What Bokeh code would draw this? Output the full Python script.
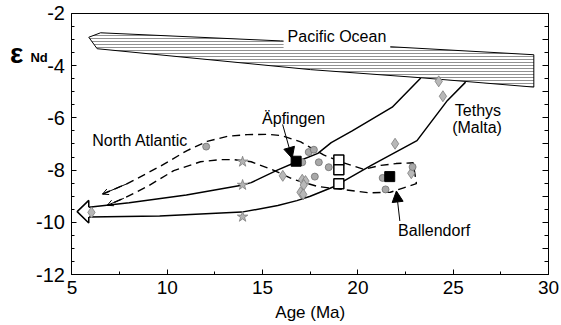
from bokeh.plotting import figure
from bokeh.models import (Range1d, LinearAxis, SingleIntervalTicker, Label, Arrow,
                          NormalHead, OpenHead)
from bokeh.embed import file_html
from bokeh.resources import INLINE

FONT = "Liberation Sans"

# ---- data -------------------------------------------------------------
pacific_x = [5.88, 6.5, 15.94, 21.62, 29.23, 29.23, 23.28, 17.51, 6.32]
pacific_y = [-2.91, -2.74, -3.05, -3.27, -3.58, -4.82, -4.46, -4.15, -3.35]

tethys_upper_x = [5.88, 8.0, 11.0, 13.9, 14.4, 15.8, 16.8, 17.9, 18.6, 19.7, 21.8, 23.3]
tethys_upper_y = [-9.42, -9.25, -8.95, -8.58, -8.48, -7.99, -7.68, -7.36, -6.95, -6.5, -5.59, -4.47]
tethys_lower_x = [5.88, 9.6, 13.9, 15.8, 16.8, 17.5, 18.7, 20.7, 23.1, 24.7, 25.65]
tethys_lower_y = [-9.8, -9.76, -9.61, -9.36, -9.17, -9.0, -8.65, -7.82, -6.87, -5.33, -4.63]

arrowhead_x = [5.88, 5.88, 5.27, 5.88, 5.88]
arrowhead_y = [-9.42, -9.16, -9.59, -10.03, -9.8]

natl_x = [6.6, 7.9, 9.64, 11.04, 12.09, 13.2, 14.2, 15.3, 16.0, 17.0, 18.2, 19.26, 20.3,
          21.2, 22.0, 22.9, 23.07, 22.4, 21.7, 20.6, 19.3, 17.9, 16.6, 15.5, 14.4, 13.5,
          12.8, 11.74, 10.34, 8.95, 7.72, 6.85]
natl_y = [-8.92, -8.52, -7.85, -7.25, -6.9, -6.7, -6.64, -6.63, -6.68, -6.92, -7.42, -7.72,
          -7.97, -7.82, -7.75, -7.72, -8.52, -8.68, -8.85, -8.87, -8.75, -8.63, -8.35,
          -7.98, -7.68, -7.6, -7.6, -7.68, -8.02, -8.63, -9.08, -9.35]

circle_x = [12.04, 17.08, 17.42, 17.69, 17.95, 18.47, 17.74, 21.3, 21.45, 22.87]
circle_y = [-7.1, -7.7, -7.31, -7.22, -7.7, -7.89, -8.25, -8.3, -8.74, -7.88]
diamond_x = [24.24, 24.46, 21.95, 16.06, 17.08, 17.25, 17.16, 16.99, 17.13, 6.02, 22.8]
diamond_y = [-4.6, -5.17, -6.99, -8.22, -8.37, -8.42, -8.57, -8.85, -8.93, -9.62, -8.12]
star_x = [13.95, 13.95, 13.95]
star_y = [-7.68, -8.57, -9.79]
open_sq_x = [19.0, 19.0, 19.0]
open_sq_y = [-7.61, -7.99, -8.52]
filled_sq_x = [16.76, 21.67]
filled_sq_y = [-7.66, -8.25]

x_min, x_max = 5, 30
y_min, y_max = -12, -2
x_ticks = [5, 10, 15, 20, 25, 30]
y_ticks = [-12, -10, -8, -6, -4, -2]

# ---- figure -----------------------------------------------------------
# The frame fills the canvas; the axes sit at fixed data locations (the box
# x 5..30, y -12..-2), which leaves room for texts outside that box.
p = figure(width=561, height=325, output_backend="svg", toolbar_location=None,
           x_range=Range1d(1.249, 30.682), y_range=Range1d(-13.954, -1.502),
           x_axis_type=None, y_axis_type=None, min_border=0)
p.outline_line_color = None
p.background_fill_color = "white"
p.border_fill_color = "white"


def style_axis(ax, size):
    ax.axis_line_color = "black"
    ax.axis_line_width = 1
    ax.major_tick_in = 5
    ax.major_tick_out = 0
    ax.minor_tick_in = 3
    ax.minor_tick_out = 0
    ax.major_tick_line_color = "black"
    ax.minor_tick_line_color = "black"
    ax.major_label_text_font = FONT
    ax.major_label_text_font_size = size
    ax.major_label_text_color = "black"


xaxis = LinearAxis(ticker=SingleIntervalTicker(interval=5, num_minor_ticks=2),
                   fixed_location=y_min, bounds=(x_min, x_max))
style_axis(xaxis, "19px")
xaxis.major_label_standoff = 6
xaxis.major_label_overrides = {t: str(t) for t in x_ticks}
p.add_layout(xaxis, "below")

yaxis = LinearAxis(ticker=SingleIntervalTicker(interval=2, num_minor_ticks=4),
                   fixed_location=x_min, bounds=(y_min, y_max))
style_axis(yaxis, "20px")
yaxis.major_label_standoff = 7
yaxis.major_label_overrides = {t: str(t) for t in y_ticks}
p.add_layout(yaxis, "left")

raxis = LinearAxis(ticker=SingleIntervalTicker(interval=1, num_minor_ticks=2),
                   fixed_location=x_max, bounds=(y_min, y_max))
style_axis(raxis, "1px")
raxis.major_label_text_color = None
raxis.major_label_standoff = 0
raxis.major_tick_in = 6
raxis.minor_tick_in = 4
p.add_layout(raxis, "right")

taxis = LinearAxis(ticker=SingleIntervalTicker(interval=5),
                   fixed_location=y_max, bounds=(x_min, x_max))
style_axis(taxis, "1px")
taxis.major_label_text_color = None
taxis.major_tick_line_color = None
taxis.minor_tick_line_color = None
taxis.major_label_standoff = 0
p.add_layout(taxis, "above")

# Pacific band
p.patch(pacific_x, pacific_y, fill_color="white", line_color="black", line_width=1,
        hatch_pattern="horizontal_line", hatch_color="#858585", hatch_scale=3,
        hatch_weight=0.9)

# Tethys envelope
p.line(tethys_upper_x, tethys_upper_y, line_color="black", line_width=1.5)
p.line(tethys_lower_x, tethys_lower_y, line_color="black", line_width=1.5)
p.patch(arrowhead_x, arrowhead_y, fill_color="white", line_color=None)
p.line(arrowhead_x, arrowhead_y, line_color="black", line_width=1.5)

# North Atlantic envelope
p.line(natl_x, natl_y, line_color="black", line_width=1.4, line_dash="8 5")
p.add_layout(Arrow(end=OpenHead(size=6, line_width=1), line_width=1,
                   x_start=natl_x[1], y_start=natl_y[1], x_end=natl_x[0], y_end=natl_y[0]))
p.add_layout(Arrow(end=OpenHead(size=6, line_width=1), line_width=1,
                   x_start=natl_x[-2], y_start=natl_y[-2], x_end=natl_x[-1], y_end=natl_y[-1]))

# samples
p.scatter(star_x, star_y, marker="star", size=11, fill_color="#b3b3b3",
          line_color="#7d7d7d", line_width=0.8)
p.scatter(diamond_x, diamond_y, marker="diamond", size=11, fill_color="#b8b8b8",
          line_color="#7d7d7d", line_width=0.8)
p.scatter(circle_x, circle_y, marker="circle", size=7, fill_color="#a8a8a8",
          line_color="#707070", line_width=0.8)
p.scatter(open_sq_x, open_sq_y, marker="square", size=10, fill_color="white",
          line_color="black", line_width=1.5)
p.scatter(filled_sq_x, filled_sq_y, marker="square", size=10, fill_color="black",
          line_color="black")

# pointer arrows
p.add_layout(Arrow(end=NormalHead(size=11, fill_color="black", line_color="black"),
                   line_width=1, x_start=16.05, y_start=-6.25, x_end=16.55, y_end=-7.55))
p.add_layout(Arrow(end=NormalHead(size=11, fill_color="black", line_color="black"),
                   line_width=1, x_start=22.2, y_start=-9.95, x_end=22.02, y_end=-8.8))


def txt(x, y, s, size="16px", bg=None, align="center", style="normal", pad=0):
    lab = Label(x=x, y=y, text=s, text_font=FONT, text_font_size=size,
                text_align=align, text_baseline="middle", text_font_style=style,
                text_color="black", background_fill_color=bg, padding=pad)
    p.add_layout(lab)
    return lab


txt(18.9, -2.88, "Pacific Ocean", "16px", bg="white", pad=4)
txt(8.58, -6.86, "North Atlantic", "16px")
txt(16.63, -6.03, "Äpfingen", "16px")
txt(26.3, -5.72, "Tethys", "16px")
txt(26.25, -6.36, "(Malta)", "16px")
txt(24.0, -10.3, "Ballendorf", "16px")
txt(17.5, -13.47, "Age (Ma)", "17px")
txt(2.09, -3.52, "ε", "28px", style="bold")
txt(2.82, -3.7, "Nd", "13px", align="left", style="bold")

open("out.html", "w").write(file_html(p, INLINE))
